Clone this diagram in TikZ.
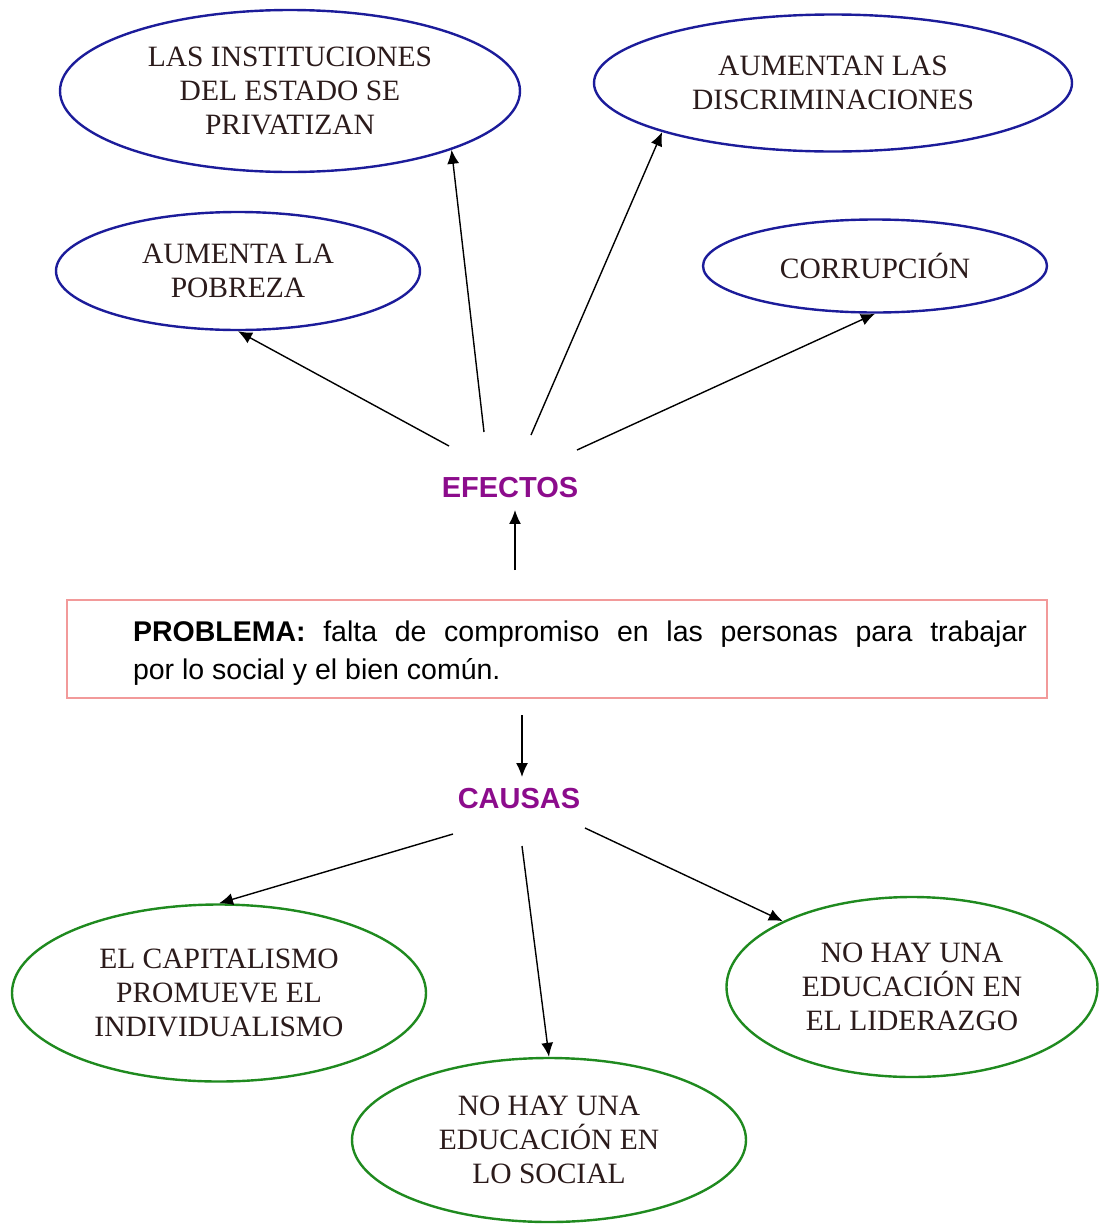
\documentclass[tikz,border=0pt]{standalone}
\usepackage{fontspec}
\setmainfont{Liberation Serif}
\setsansfont{Liberation Sans}
\usetikzlibrary{arrows.meta,shapes.geometric}
\definecolor{efectoblue}{HTML}{1C1C9A}
\definecolor{causagreen}{HTML}{1F8A1F}
\definecolor{titlepurple}{HTML}{8C0C8C}
\definecolor{problemred}{HTML}{F29A9A}
\definecolor{bubbletext}{HTML}{2B1B1B}

\begin{document}
\begin{tikzpicture}[x=1pt,y=-1pt,>={Latex[length=14pt,width=12pt]},line width=1.4pt]
\tikzstyle{bubble}=[ellipse, line width=2.4pt, inner sep=0pt, align=center, text=bubbletext, font=\fontsize{29.5}{34}\selectfont]
\tikzstyle{efecto}=[bubble, draw=efectoblue]
\tikzstyle{causa}=[bubble, draw=causagreen]
\tikzstyle{title}=[text=titlepurple, inner sep=11pt, font=\sffamily\bfseries\fontsize{29}{34}\selectfont]
\useasboundingbox (0,0) rectangle (1100,1224);
% efectos
\node[efecto, minimum width=460pt, minimum height=162pt] (inst) at (290,91) {LAS INSTITUCIONES\\DEL ESTADO SE\\PRIVATIZAN};
\node[efecto, minimum width=478pt, minimum height=137pt] (discr) at (833,83) {AUMENTAN LAS\\DISCRIMINACIONES};
\node[efecto, minimum width=364pt, minimum height=118pt] (pobreza) at (238,271) {AUMENTA LA\\POBREZA};
\node[efecto, minimum width=344pt, minimum height=93pt] (corrup) at (875,266) {CORRUPCIÓN};
\node[title] (efectos) at (510,488) {EFECTOS};
% problema
\node[draw=problemred, line width=1.3pt, minimum width=980pt, minimum height=98pt, inner xsep=20pt, font=\sffamily\fontsize{28.5}{38.5}\selectfont] (problema) at (557,649)
  {\hspace*{46pt}\parbox{894pt}{\vspace*{8pt}\textbf{PROBLEMA:} falta de compromiso en las personas para trabajar\linebreak por lo social y el bien común.}};
\node[title] (causas) at (519,799) {CAUSAS};
% causas
\node[causa, minimum width=414pt, minimum height=177pt] (capital) at (219,993) {EL CAPITALISMO\\PROMUEVE EL\\INDIVIDUALISMO};
\node[causa, minimum width=394pt, minimum height=164pt] (social) at (549,1140) {NO HAY UNA\\EDUCACIÓN EN\\LO SOCIAL};
\node[causa, minimum width=371pt, minimum height=180pt] (lider) at (912,987) {NO HAY UNA\\EDUCACIÓN EN\\EL LIDERAZGO};
% puntos de salida
\coordinate (e1) at (449,446);
\coordinate (e2) at (484,432);
\coordinate (e3) at (531,435);
\coordinate (e4) at (577,450);
\coordinate (up) at (515,570);
\coordinate (down) at (522,715);
\coordinate (c1) at (453,834);
\coordinate (c2) at (522,846);
\coordinate (c3) at (585,828);
% flechas
\draw[->] (e1) -- (pobreza.south);
\draw[->] (e2) -- (inst.-20);
\draw[->] (e3) -- (discr.-164);
\draw[->] (e4) -- (corrup.south);
\draw[->] (up) -- (up |- efectos.south);
\draw[->] (down) -- (down |- causas.north);
\draw[->] (c1) -- (capital.north);
\draw[->] (c2) -- (social.north);
\draw[->] (c3) -- (lider.153);
\end{tikzpicture}
\end{document}
